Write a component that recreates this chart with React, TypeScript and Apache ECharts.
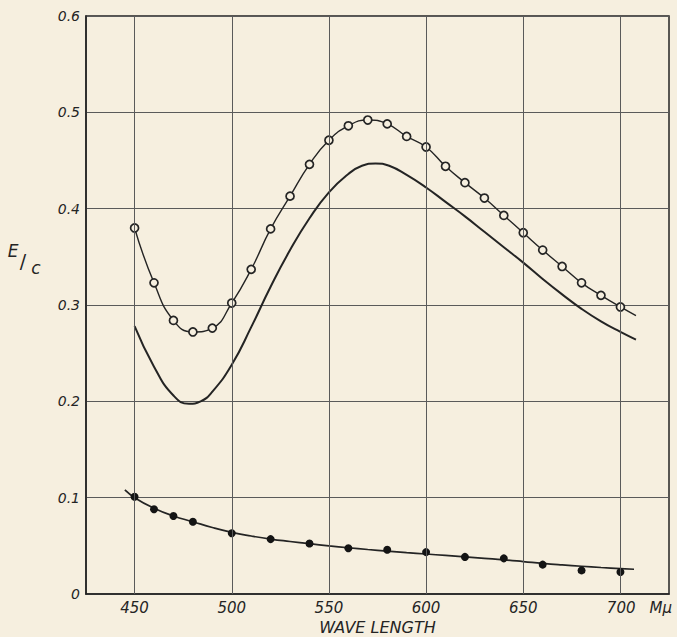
import { useEffect, useRef } from "react";
import * as echarts from "echarts";

// Wave length ticks (mμ) and E/c ticks
const xTickValues = [450, 500, 550, 600, 650, 700];
const yTickValues = [0, 0.1, 0.2, 0.3, 0.4, 0.5, 0.6];

// Open circles (measured points) and the curve drawn through them
const openPoints: [number, number][] = [
  [450, 0.38], [460, 0.323], [470, 0.284], [480, 0.272], [490, 0.276],
  [500, 0.302], [510, 0.337], [520, 0.379], [530, 0.413], [540, 0.446],
  [550, 0.471], [560, 0.486], [570, 0.492], [580, 0.488], [590, 0.475],
  [600, 0.464], [610, 0.444], [620, 0.427], [630, 0.411], [640, 0.393],
  [650, 0.375], [660, 0.357], [670, 0.34], [680, 0.323], [690, 0.31],
  [700, 0.298],
];
const openCurveTail: [number, number][] = [[708, 0.289]];

// Plain curve (no markers)
const plainCurve: [number, number][] = [
  [450, 0.278], [460, 0.236], [470, 0.206], [478, 0.1975], [484, 0.2],
  [490, 0.21], [500, 0.238], [510, 0.277], [520, 0.319], [530, 0.357],
  [540, 0.39], [550, 0.417], [560, 0.436], [567, 0.4445], [574, 0.447],
  [581, 0.4445], [590, 0.435], [600, 0.422], [610, 0.407], [620, 0.392],
  [630, 0.376], [640, 0.36], [650, 0.344], [660, 0.327], [670, 0.311],
  [680, 0.296], [690, 0.283], [700, 0.272], [708, 0.264],
];

// Filled dots and their fitted curve
const filledPoints: [number, number][] = [
  [450, 0.101], [460, 0.088], [470, 0.081], [480, 0.075], [500, 0.063],
  [520, 0.057], [540, 0.0525], [560, 0.0475], [580, 0.046], [600, 0.0435],
  [620, 0.0385], [640, 0.037], [660, 0.0305], [680, 0.0245], [700, 0.0228],
];
const filledCurve: [number, number][] = [
  [445, 0.108], [450, 0.1], [460, 0.089], [470, 0.081], [480, 0.075],
  [490, 0.069], [500, 0.064], [510, 0.0602], [520, 0.057], [530, 0.0545],
  [540, 0.0522], [550, 0.05], [560, 0.048], [570, 0.0462], [580, 0.0446],
  [590, 0.043], [600, 0.0415], [610, 0.04], [620, 0.0385], [630, 0.037],
  [640, 0.0355], [650, 0.0337], [660, 0.0318], [670, 0.0302], [680, 0.0288],
  [690, 0.0275], [700, 0.0264], [707, 0.0257],
];

const BG = "#f6efdf";
const INK = "#242424";
const GRID = "#5a5a5a";
const FONT = "DejaVu Sans";

export default function App() {
  const ref = useRef<HTMLDivElement>(null);

  useEffect(() => {
    if (!ref.current) return;
    const chart = echarts.init(ref.current, undefined, { renderer: "svg" });
    chart.setOption({
      animation: false,
      backgroundColor: BG,
      grid: {
        left: 86,
        right: 8,
        top: 16,
        bottom: 43,
        outerBoundsMode: "none",
        containLabel: false,
        show: true,
        borderColor: INK,
        borderWidth: 1.5,
        backgroundColor: "transparent",
      },
      xAxis: {
        type: "value",
        min: 425,
        max: 725,
        interval: 25,
        name: "WAVE LENGTH",
        nameLocation: "middle",
        nameGap: 22,
        nameTextStyle: {
          fontFamily: FONT,
          fontStyle: "italic",
          fontSize: 16,
          color: INK,
        },
        axisLine: { show: true, lineStyle: { color: INK, width: 1.5 } },
        axisTick: { show: false },
        splitLine: { show: false },
        axisLabel: {
          interval: 0,
          margin: 6,
          fontFamily: FONT,
          fontStyle: "italic",
          fontSize: 15,
          color: INK,
          formatter: (v: number) => {
            if (!xTickValues.includes(v)) return "";
            if (v === xTickValues[xTickValues.length - 1]) return "{p|}" + v + "{u|Mμ}";
            return String(v);
          },
          rich: {
            p: { width: 38 },
            u: {
              fontFamily: FONT,
              fontStyle: "italic",
              fontSize: 15,
              color: INK,
              padding: [0, 0, 0, 14],
            },
          },
        },
      },
      yAxis: {
        type: "value",
        min: yTickValues[0],
        max: yTickValues[yTickValues.length - 1],
        interval: 0.1,
        axisLine: { show: true, lineStyle: { color: INK, width: 1.5 } },
        axisTick: { show: false },
        splitLine: { show: true, lineStyle: { color: GRID, width: 1 } },
        axisLabel: {
          margin: 6,
          fontFamily: FONT,
          fontStyle: "italic",
          fontSize: 14,
          color: INK,
          formatter: (v: number) => (v === 0 ? "0" : v.toFixed(1)),
        },
      },
      graphic: [
        {
          type: "text",
          x: 13,
          y: 251,
          style: {
            text: "E",
            fontFamily: FONT,
            fontStyle: "italic",
            fontSize: 17,
            fill: INK,
            align: "center",
            verticalAlign: "middle",
          },
        },
        {
          type: "text",
          x: 23,
          y: 261,
          style: {
            text: "/",
            fontFamily: FONT,
            fontStyle: "normal",
            fontSize: 19,
            fill: INK,
            align: "center",
            verticalAlign: "middle",
          },
        },
        {
          type: "text",
          x: 36,
          y: 268,
          style: {
            text: "c",
            fontFamily: FONT,
            fontStyle: "italic",
            fontSize: 17,
            fill: INK,
            align: "center",
            verticalAlign: "middle",
          },
        },
      ],
      series: [
        {
          name: "grid-x",
          type: "line",
          data: [],
          z: 0,
          silent: true,
          markLine: {
            silent: true,
            symbol: ["none", "none"],
            label: { show: false },
            lineStyle: { color: GRID, width: 1, type: "solid" },
            data: xTickValues.map((v) => ({ xAxis: v })),
          },
        },
        {
          name: "open-curve",
          type: "line",
          smooth: true,
          showSymbol: false,
          data: [...openPoints, ...openCurveTail],
          lineStyle: { color: INK, width: 1.4 },
          z: 3,
        },
        {
          name: "open-points",
          type: "scatter",
          symbol: "circle",
          symbolSize: 8,
          data: openPoints,
          itemStyle: { color: BG, borderColor: INK, borderWidth: 1.7, opacity: 1 },
          z: 4,
        },
        {
          name: "plain-curve",
          type: "line",
          smooth: true,
          showSymbol: false,
          data: plainCurve,
          lineStyle: { color: INK, width: 2 },
          z: 3,
        },
        {
          name: "filled-curve",
          type: "line",
          smooth: true,
          showSymbol: false,
          data: filledCurve,
          lineStyle: { color: INK, width: 1.7 },
          z: 3,
        },
        {
          name: "filled-points",
          type: "scatter",
          symbol: "circle",
          symbolSize: 8,
          data: filledPoints,
          itemStyle: { color: "#141414", opacity: 1 },
          z: 4,
        },
      ],
    });
    return () => chart.dispose();
  }, []);

  return (
    <div
      ref={ref}
      style={{
        position: "fixed",
        left: 0,
        top: 0,
        width: 677,
        height: 637,
        background: BG,
      }}
    />
  );
}
